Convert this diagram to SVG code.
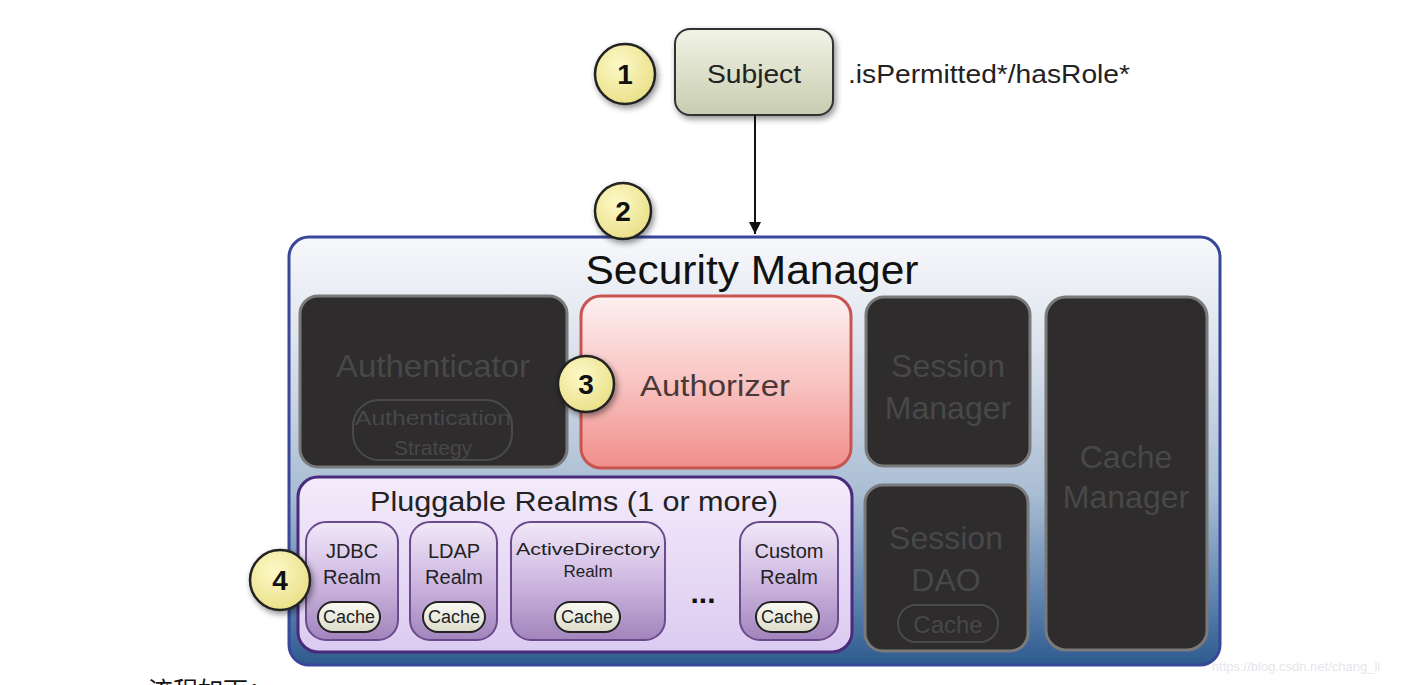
<svg xmlns="http://www.w3.org/2000/svg" width="1410" height="685" viewBox="0 0 1410 685">
<defs>
<linearGradient id="gSubj" x1="0" y1="0" x2="0" y2="1"><stop offset="0" stop-color="#f2f3e6"/><stop offset="1" stop-color="#c8cdb0"/></linearGradient>
<radialGradient id="gCirc" cx="0.4" cy="0.35" r="0.7"><stop offset="0" stop-color="#fdf9c8"/><stop offset="1" stop-color="#e9df86"/></radialGradient>
<linearGradient id="gSM" x1="0" y1="0" x2="0" y2="1"><stop offset="0" stop-color="#f7f8fb"/><stop offset="0.25" stop-color="#dde3ee"/><stop offset="0.6" stop-color="#a9bdd3"/><stop offset="0.85" stop-color="#5d82ae"/><stop offset="1" stop-color="#2d5a8e"/></linearGradient>
<linearGradient id="gAuthz" x1="0" y1="0" x2="0" y2="1"><stop offset="0" stop-color="#fdf0f0"/><stop offset="0.5" stop-color="#f8c4c2"/><stop offset="1" stop-color="#f08e8a"/></linearGradient>
<linearGradient id="gPlug" x1="0" y1="0" x2="0" y2="1"><stop offset="0" stop-color="#f3ebfb"/><stop offset="1" stop-color="#dccbf1"/></linearGradient>
<linearGradient id="gRealm" x1="0" y1="0" x2="0" y2="1"><stop offset="0" stop-color="#f1e8f8"/><stop offset="0.45" stop-color="#d2bde4"/><stop offset="1" stop-color="#a184bc"/></linearGradient>
<linearGradient id="gPill" x1="0" y1="0" x2="0" y2="1"><stop offset="0" stop-color="#fafaf4"/><stop offset="1" stop-color="#dcdccc"/></linearGradient>
<filter id="sh" x="-30%" y="-30%" width="160%" height="160%"><feGaussianBlur in="SourceAlpha" stdDeviation="3"/><feOffset dx="2" dy="3"/><feComponentTransfer><feFuncA type="linear" slope="0.45"/></feComponentTransfer><feMerge><feMergeNode/><feMergeNode in="SourceGraphic"/></feMerge></filter>
<marker id="arr" viewBox="0 0 10 10" refX="10" refY="5" markerWidth="14" markerHeight="12" markerUnits="userSpaceOnUse" orient="auto"><path d="M0,0 L10,5 L0,10 z" fill="#111"/></marker>
</defs>
<style>
text{font-family:"Liberation Sans",Arial,sans-serif;text-anchor:middle;}
.circ{fill:url(#gCirc);stroke:#222;stroke-width:2.5;filter:url(#sh);}
.num{font-size:28px;font-weight:bold;fill:#111;}
.dark{fill:#2e2c2d;stroke:#7a7a7a;stroke-width:3;}
.dtxt{fill:#484848;font-size:32px;}
.realm{fill:url(#gRealm);stroke:#6b4b8c;stroke-width:2;}
.rtxt{fill:#222;font-size:20px;}
.pill{fill:url(#gPill);stroke:#222;stroke-width:2;}
.ptxt{fill:#222;font-size:18px;}
</style>
<rect width="1410" height="685" fill="#ffffff"/>

<g id="subject">
<rect x="675" y="29" width="158" height="86" rx="15" fill="url(#gSubj)" stroke="#333" stroke-width="2" filter="url(#sh)"/>
<text x="754" y="83" font-size="26" fill="#222" textLength="94" lengthAdjust="spacingAndGlyphs">Subject</text>
</g>
<g id="label-method"><text x="848" y="83" font-size="26" fill="#222" style="text-anchor:start" textLength="282" lengthAdjust="spacingAndGlyphs">.isPermitted*/hasRole*</text></g>
<g id="badge1"><circle class="circ" cx="625" cy="74" r="30"/><text class="num" x="625" y="84">1</text></g>

<g id="security-manager">
<rect x="289" y="237" width="931" height="428" rx="20" fill="url(#gSM)" stroke="#39479a" stroke-width="3"/>
<text x="752" y="284" font-size="40" fill="#111" textLength="333" lengthAdjust="spacingAndGlyphs">Security Manager</text>
</g>

<g id="authenticator">
<rect class="dark" x="300" y="296" width="267" height="171" rx="18"/>
<text class="dtxt" x="433" y="377" textLength="194" lengthAdjust="spacingAndGlyphs">Authenticator</text>
<rect x="353" y="400" width="159" height="60" rx="26" fill="none" stroke="#4a4a4a" stroke-width="2"/>
<text x="433" y="425" font-size="21" fill="#484848" textLength="156" lengthAdjust="spacingAndGlyphs">Authentication</text>
<text x="433" y="455" font-size="21" fill="#484848">Strategy</text>
</g>

<g id="authorizer">
<rect x="581" y="296" width="270" height="172" rx="20" fill="url(#gAuthz)" stroke="#c85450" stroke-width="3"/>
<text x="715" y="396" font-size="30" fill="#4a3838" textLength="150" lengthAdjust="spacingAndGlyphs">Authorizer</text>
</g>
<g id="badge3"><circle class="circ" cx="586" cy="384" r="28"/><text class="num" x="586" y="394">3</text></g>

<g id="session-manager">
<rect class="dark" x="866" y="297" width="164" height="169" rx="18"/>
<text class="dtxt" x="948" y="377">Session</text>
<text class="dtxt" x="948" y="419">Manager</text>
</g>

<g id="session-dao">
<rect class="dark" x="865" y="485" width="163" height="166" rx="18"/>
<text class="dtxt" x="946" y="549">Session</text>
<text class="dtxt" x="946" y="591">DAO</text>
<rect x="898" y="605" width="100" height="37" rx="18" fill="none" stroke="#4a4a4a" stroke-width="2"/>
<text x="948" y="633" font-size="24" fill="#484848">Cache</text>
</g>

<g id="cache-manager">
<rect class="dark" x="1046" y="297" width="161" height="353" rx="20"/>
<text class="dtxt" x="1126" y="468">Cache</text>
<text class="dtxt" x="1126" y="508">Manager</text>
</g>

<g id="pluggable-realms">
<rect x="298" y="477" width="554" height="175" rx="20" fill="url(#gPlug)" stroke="#4a2a7c" stroke-width="3"/>
<text x="574" y="511" font-size="28" fill="#222" textLength="408" lengthAdjust="spacingAndGlyphs">Pluggable Realms (1 or more)</text>
</g>

<g id="realm-jdbc">
<rect class="realm" x="306" y="522" width="92" height="118" rx="20"/>
<text class="rtxt" x="352" y="558">JDBC</text><text class="rtxt" x="352" y="584">Realm</text>
<rect class="pill" x="318" y="602" width="62" height="30" rx="15"/><text class="ptxt" x="349" y="623">Cache</text>
</g>
<g id="realm-ldap">
<rect class="realm" x="410" y="522" width="87" height="118" rx="20"/>
<text class="rtxt" x="454" y="558">LDAP</text><text class="rtxt" x="454" y="584">Realm</text>
<rect class="pill" x="423" y="602" width="62" height="30" rx="15"/><text class="ptxt" x="454" y="623">Cache</text>
</g>
<g id="realm-ad">
<rect class="realm" x="511" y="522" width="154" height="118" rx="20"/>
<text x="588" y="555" font-size="17" fill="#222" textLength="144" lengthAdjust="spacingAndGlyphs">ActiveDirectory</text><text x="588" y="577" font-size="17" fill="#222">Realm</text>
<rect class="pill" x="555" y="602" width="65" height="30" rx="15"/><text class="ptxt" x="587" y="623">Cache</text>
</g>
<g id="ellipsis"><text x="703" y="603" font-size="30" font-weight="bold" fill="#111">...</text></g>
<g id="realm-custom">
<rect class="realm" x="740" y="522" width="98" height="118" rx="20"/>
<text class="rtxt" x="789" y="558">Custom</text><text class="rtxt" x="789" y="584">Realm</text>
<rect class="pill" x="756" y="602" width="63" height="30" rx="15"/><text class="ptxt" x="787" y="623">Cache</text>
</g>

<g id="badge2"><circle class="circ" cx="623" cy="211" r="28"/><text class="num" x="623" y="221">2</text></g>
<g id="badge4"><circle class="circ" cx="280" cy="580" r="30"/><text class="num" x="280" y="590">4</text></g>

<g id="connectors">
<line x1="755" y1="115" x2="755" y2="234" stroke="#111" stroke-width="2" marker-end="url(#arr)"/>
</g>

<text x="1296" y="671" font-size="13" fill="#e6e6ea">https://blog.csdn.net/chang_li</text>
<text x="148" y="700" font-size="25" fill="#111" style="text-anchor:start;font-family:'Noto Sans CJK SC','Liberation Serif',serif">流程如下：</text>
</svg>
